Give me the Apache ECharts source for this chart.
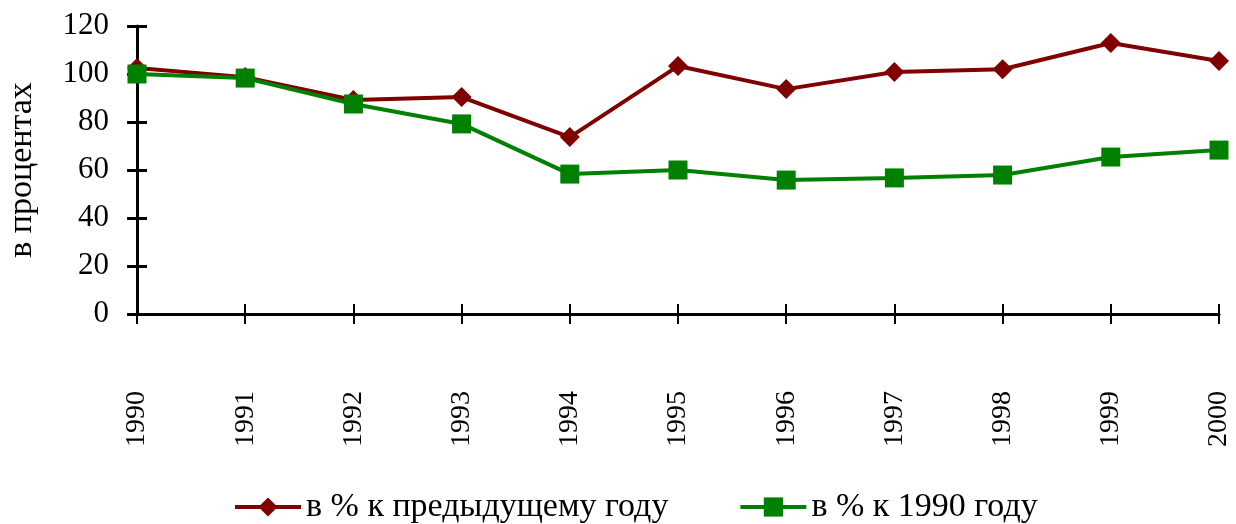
<!DOCTYPE html>
<html>
<head>
<meta charset="utf-8">
<script src="https://cdn.jsdelivr.net/npm/echarts@6/dist/echarts.min.js"></script>
<style>
  html, body { margin: 0; padding: 0; background: #fff; }
  #chart { width: 1236px; height: 524px; }
</style>
</head>
<body>
<div id="chart"></div>
<script>
// years on the x axis
const years = ["1990", "1991", "1992", "1993", "1994", "1995", "1996", "1997", "1998", "1999", "2000"];
// в % к предыдущему году
const prevYear = [102.5, 98.7, 89.2, 90.4, 73.7, 103.3, 93.7, 100.8, 102, 112.9, 105.4];
// в % к 1990 году
const base1990 = [100, 98.3, 87.5, 79.2, 58.3, 60, 55.8, 56.7, 57.9, 65.4, 68.3];
const yTicks = { min: 0, max: 120, interval: 20 };

const font = "'Liberation Serif', 'DejaVu Serif', serif";
const chart = echarts.init(document.getElementById("chart"));

let option = {
  animation: false,
  grid: { left: 137, right: 17, top: 26, bottom: 210, outerBoundsMode: "none" },
  legend: {
    bottom: -5,
    left: 228,
    itemWidth: 66,
    itemHeight: 24,
    itemGap: 70,
    lineStyle: { width: 4 },
    textStyle: { fontFamily: font, fontSize: 34, color: "#000" },
    data: ["в % к предыдущему году", "в % к 1990 году"],
  },
  xAxis: [
    {
      type: "category",
      data: years,
      boundaryGap: false,
      axisLine: { lineStyle: { color: "#000", width: 3 } },
      axisTick: { length: 10, lineStyle: { color: "#000", width: 2 } },
      axisLabel: {
        rotate: 90,
        margin: 77,
        color: "#000",
        fontFamily: font,
        fontSize: 28,
      },
    },
    {
      // inside half of the crossing ticks
      type: "category",
      data: years,
      position: "bottom",
      boundaryGap: false,
      axisLine: { show: false },
      axisTick: { inside: true, length: 10, lineStyle: { color: "#000", width: 2 } },
      axisLabel: { show: false },
    },
  ],
  yAxis: [
    {
      type: "value",
      min: yTicks.min,
      max: yTicks.max,
      interval: yTicks.interval,
      name: "в процентах",
      nameLocation: "middle",
      nameGap: 98,
      nameTextStyle: { fontFamily: font, fontSize: 34, color: "#000" },
      splitLine: { show: false },
      axisLine: { show: true, lineStyle: { color: "#000", width: 3 } },
      axisTick: { show: true, length: 10, lineStyle: { color: "#000", width: 3 } },
      axisLabel: { margin: 28, color: "#000", fontFamily: font, fontSize: 31 },
    },
    {
      type: "value",
      position: "left",
      min: yTicks.min,
      max: yTicks.max,
      interval: yTicks.interval,
      splitLine: { show: false },
      axisLine: { show: false },
      axisTick: { show: true, inside: true, length: 10, lineStyle: { color: "#000", width: 3 } },
      axisLabel: { show: false },
    },
  ],
  series: [
    {
      name: "в % к предыдущему году",
      type: "line",
      data: prevYear,
      symbol: "diamond",
      symbolSize: 20,
      lineStyle: { color: "#800000", width: 4 },
      itemStyle: { color: "#800000" },
    },
    {
      name: "в % к 1990 году",
      type: "line",
      data: base1990,
      symbol: "rect",
      symbolSize: 19,
      lineStyle: { color: "#008000", width: 4 },
      itemStyle: { color: "#008000" },
    },
  ],
};
chart.setOption(option);
</script>
</body>
</html>
